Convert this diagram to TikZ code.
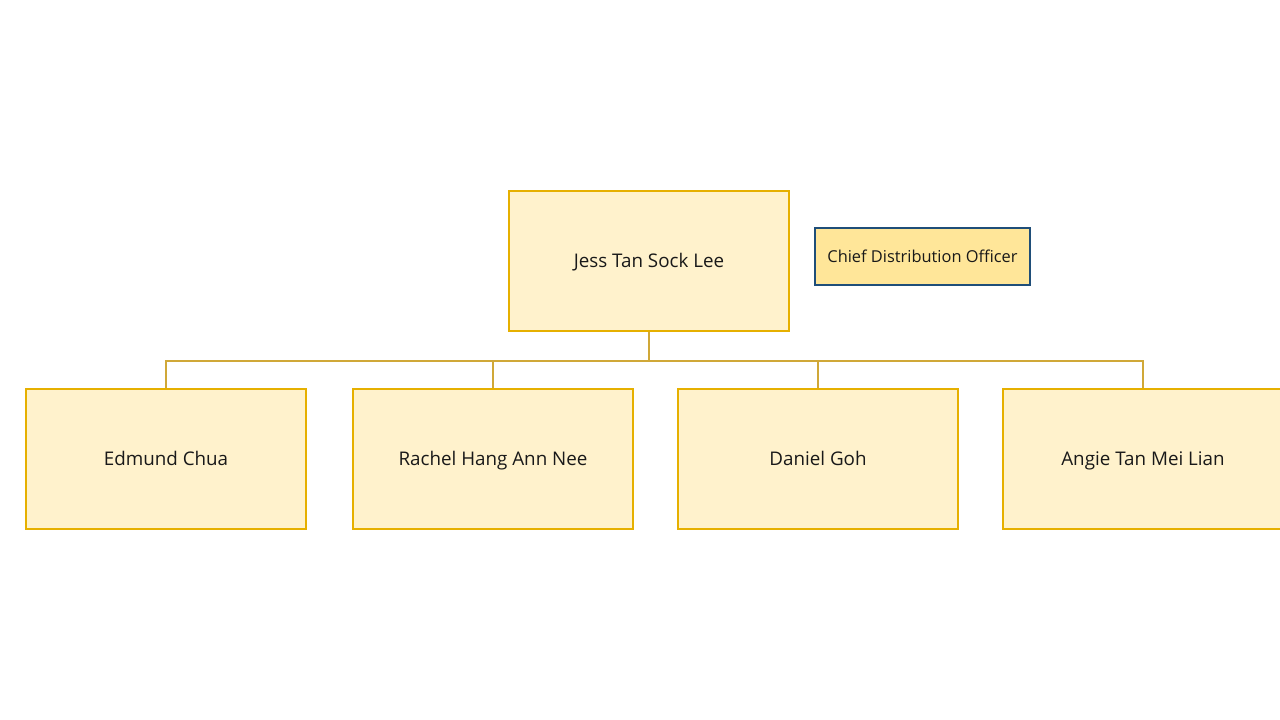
\documentclass[tikz,border=0pt]{standalone}
\usepackage{fontspec}
\setmainfont{Open Sans}
\definecolor{boxfill}{HTML}{FFF2CC}
\definecolor{boxline}{HTML}{E6B000}
\definecolor{conn}{HTML}{D0A838}
\definecolor{cdofill}{HTML}{FFE699}
\definecolor{cdoline}{HTML}{1F4E79}
\begin{document}
\begin{tikzpicture}[x=0.75pt,y=-0.75pt,
  person/.style={draw=boxline,fill=boxfill,line width=1.5pt,minimum width=210pt,minimum height=105pt,inner sep=0pt,text height=1.9ex,text depth=0pt,font=\fontsize{14.1}{16}\selectfont,text=black!90},
  titlebox/.style={draw=cdoline,fill=cdofill,line width=1.5pt,minimum width=161pt,minimum height=42.75pt,inner sep=0pt,text height=1.8ex,text depth=0pt,font=\fontsize{12.3}{14}\selectfont,text=black!90},
  link/.style={draw=conn,line width=0.8pt}]
\useasboundingbox (0,0) rectangle (1280,720);
\fill[white] (0,0) rectangle (1280,720);
\clip (0,0) rectangle (1280,720);
\coordinate (hub) at (649,361);
\node[person] (top) at (649,261) {Jess Tan Sock Lee};
\node[titlebox] (cdo) at (922.5,256.5) {Chief Distribution Officer};
\node[person] (b1) at (166,459) {Edmund Chua};
\node[person] (b2) at (493,459) {Rachel Hang Ann Nee};
\node[person] (b3) at (818,459) {Daniel Goh};
\node[person] (b4) at (1143,459) {Angie Tan Mei Lian};
\draw[link] (top.south) -- (hub);
\draw[link] (b1.north) |- (hub);
\draw[link] (b2.north) |- (hub);
\draw[link] (b3.north) |- (hub);
\draw[link] (b4.north) |- (hub);
\end{tikzpicture}
\end{document}
